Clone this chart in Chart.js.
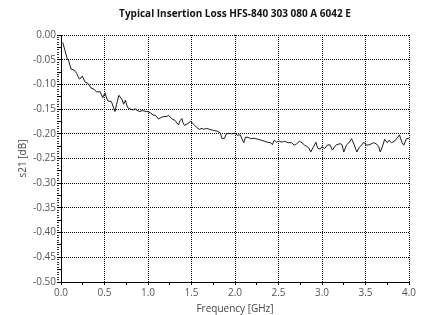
<!DOCTYPE html>
<html>
<head>
<meta charset="utf-8">
<script src="https://cdn.jsdelivr.net/npm/chart.js@4"></script>
<style>
  html, body { margin: 0; padding: 0; background: #fff; }
  #wrap { width: 422px; height: 315px; }
</style>
</head>
<body>
<div id="wrap"><canvas id="c" width="422" height="315"></canvas></div>
<script>
const chartTitle = 'Typical Insertion Loss HFS-840 303 080 A 6042 E';
const xAxisTitle = 'Frequency [GHz]';
const yAxisTitle = 's21 [dB]';

const frequencyGHz = [
  0.02, 0.045, 0.07, 0.09, 0.115, 0.15, 0.18, 0.21, 0.23, 0.245,
  0.275, 0.31, 0.345, 0.38, 0.41, 0.45, 0.48, 0.505, 0.535, 0.58,
  0.62, 0.64, 0.665, 0.70, 0.72, 0.74, 0.765, 0.80, 0.83, 0.85,
  0.87, 0.90, 0.94, 0.98, 1.00, 1.03, 1.06, 1.09, 1.12, 1.15,
  1.18, 1.21, 1.24, 1.27, 1.31, 1.35, 1.37, 1.39, 1.40, 1.42,
  1.45, 1.49, 1.52, 1.56, 1.59, 1.62, 1.64, 1.67, 1.71, 1.75,
  1.80, 1.83, 1.85, 1.88, 1.90, 1.93, 1.96, 2.00, 2.03, 2.06,
  2.10, 2.12, 2.15, 2.18, 2.22, 2.26, 2.30, 2.34, 2.37, 2.41,
  2.43, 2.45, 2.48, 2.51, 2.54, 2.57, 2.61, 2.65, 2.68, 2.71,
  2.74, 2.77, 2.80, 2.82, 2.85, 2.87, 2.90, 2.93, 2.95, 2.98,
  3.00, 3.03, 3.06, 3.09, 3.12, 3.15, 3.17, 3.21, 3.23, 3.25,
  3.28, 3.31, 3.34, 3.37, 3.40, 3.43, 3.46, 3.48, 3.51, 3.55,
  3.59, 3.62, 3.65, 3.67, 3.70, 3.72, 3.75, 3.77, 3.80, 3.83,
  3.86, 3.89, 3.92, 3.94, 3.97, 4.00
];
const s21dB = [
  -0.015, -0.031, -0.047, -0.053, -0.069, -0.071, -0.078, -0.089, -0.087, -0.083,
  -0.095, -0.098, -0.107, -0.110, -0.115, -0.115, -0.127, -0.117, -0.133, -0.135,
  -0.155, -0.140, -0.122, -0.130, -0.140, -0.132, -0.147, -0.150, -0.152, -0.149,
  -0.152, -0.155, -0.153, -0.155, -0.155, -0.158, -0.162, -0.163, -0.170, -0.167,
  -0.165, -0.165, -0.163, -0.169, -0.173, -0.182, -0.173, -0.169, -0.177, -0.183,
  -0.180, -0.175, -0.180, -0.187, -0.191, -0.189, -0.191, -0.189, -0.191, -0.193,
  -0.195, -0.198, -0.210, -0.209, -0.200, -0.199, -0.200, -0.199, -0.203, -0.202,
  -0.218, -0.207, -0.207, -0.210, -0.209, -0.211, -0.213, -0.215, -0.217, -0.218,
  -0.222, -0.213, -0.217, -0.215, -0.217, -0.215, -0.218, -0.218, -0.223, -0.220,
  -0.215, -0.218, -0.223, -0.225, -0.229, -0.237, -0.227, -0.217, -0.229, -0.231,
  -0.226, -0.230, -0.223, -0.222, -0.233, -0.225, -0.222, -0.220, -0.222, -0.237,
  -0.223, -0.218, -0.210, -0.222, -0.237, -0.227, -0.222, -0.217, -0.223, -0.222,
  -0.218, -0.220, -0.225, -0.237, -0.223, -0.211, -0.218, -0.213, -0.218, -0.215,
  -0.210, -0.202, -0.218, -0.223, -0.210, -0.209
];

const xRange = [0, 4];
const yRange = [-0.5, 0];
const xMajorStep = 0.5, xMinorStep = 0.25;
const yMajorStep = 0.05, yMidStep = 0.025, yMinorStep = 0.005;

const isMult = (v, step) => Math.abs(v / step - Math.round(v / step)) < 1e-6;
const FONT = '"Open Sans", "Noto Sans", sans-serif';

const points = frequencyGHz.map((f, i) => ({ x: f, y: s21dB[i] }));

new Chart(document.getElementById('c'), {
  type: 'line',
  data: {
    datasets: [{
      data: points,
      borderColor: '#1a1a1a',
      borderWidth: 1,
      pointRadius: 0,
      tension: 0,
      fill: false
    }]
  },
  options: {
    responsive: false,
    animation: false,
    devicePixelRatio: 1,
    layout: { padding: { left: 0, right: 13, top: 0, bottom: 0 } },
    plugins: {
      legend: { display: false },
      tooltip: { enabled: false },
      title: {
        display: true,
        text: chartTitle,
        fullSize: false,
        color: '#111',
        font: { family: FONT, size: 10, weight: 'bold', lineHeight: 1.2 },
        padding: { top: 8, bottom: 15 }
      }
    },
    scales: {
      x: {
        type: 'linear',
        min: xRange[0], max: xRange[1],
        afterFit: s => { s.height = 33; },
        ticks: {
          stepSize: xMinorStep,
          autoSkip: false,
          maxRotation: 0,
          padding: 2,
          color: '#555',
          font: { family: FONT, size: 10 },
          callback: v => isMult(v, xMajorStep) ? v.toFixed(1) : ''
        },
        grid: {
          color: c => isMult(c.tick.value, xMajorStep) ? '#000' : 'rgba(0,0,0,0)',
          lineWidth: 1,
          tickLength: 3,
          tickColor: '#000'
        },
        border: { display: true, color: '#000', width: 1, dash: [1, 1] },
        title: {
          display: true,
          text: xAxisTitle,
          color: '#444',
          font: { family: FONT, size: 10 },
          padding: { top: 0, bottom: 0 }
        }
      },
      y: {
        type: 'linear',
        min: yRange[0], max: yRange[1],
        afterFit: s => { s.width = 61; },
        ticks: {
          stepSize: yMinorStep,
          autoSkip: false,
          padding: 1,
          color: '#555',
          font: { family: FONT, size: 10 },
          callback: v => isMult(v, yMajorStep) ? (Math.abs(v) < 1e-9 ? '0.00' : v.toFixed(2)) : ''
        },
        grid: {
          color: c => isMult(c.tick.value, yMajorStep) ? '#000' : 'rgba(0,0,0,0)',
          lineWidth: 1,
          tickLength: 4,
          tickColor: c => isMult(c.tick.value, yMidStep) ? '#000' : '#333',
          tickBorderDash: c => isMult(c.tick.value, yMidStep) ? [] : [2, 2]
        },
        border: { display: true, color: '#000', width: 1, dash: [1, 1] },
        title: {
          display: true,
          text: yAxisTitle,
          color: '#444',
          font: { family: FONT, size: 10 },
          padding: { top: 17, bottom: 0 }
        }
      }
    }
  }
});
</script>
</body>
</html>
